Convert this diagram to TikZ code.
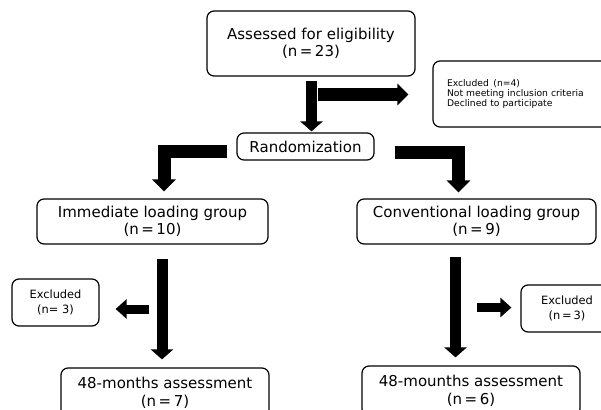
\documentclass[tikz,border=0pt]{standalone}
\usepackage{fontspec}
\setmainfont{DejaVu Sans}
\usetikzlibrary{arrows.meta}
\begin{document}
\begin{tikzpicture}[x=1pt,y=-1pt,
  box/.style={draw, line width=1.2pt, rounded corners=7pt, align=center, inner sep=0pt,
    font=\fontsize{15}{17.5}\selectfont},
  sbox/.style={draw, line width=1.2pt, rounded corners=7pt, align=center, inner sep=0pt,
    font=\fontsize{11.4}{15}\selectfont},
  bigarrow/.style={line width=13pt, line join=miter, -{Triangle[width=23pt,length=12pt]}},
  midarrow/.style={line width=11pt, -{Triangle[width=22pt,length=10pt]}},
  sidearrow/.style={line width=13pt, -{Triangle[width=21pt,length=11pt]}},
  smallarrow/.style={line width=9pt, -{Triangle[width=19pt,length=11pt]}}]
\useasboundingbox[fill=white] (0,0) rectangle (601,409);

\node[box, minimum width=208pt, minimum height=65pt] (top) at (311,43.5)
  {Assessed for eligibility\\(n\,=\,23)};
\node[draw, line width=1.2pt, rounded corners=7pt, align=left, text width=160pt,
  inner xsep=14pt, inner ysep=0pt, minimum height=66pt,
  font=\fontsize{9.2}{10.2}\selectfont] (exc4) at (527,94)
  {Excluded\enspace(n=4)\\Not meeting inclusion criteria\\Declined to participate};
\node[box, minimum width=137pt, minimum height=27pt] (rand) at (305.5,146.5) {Randomization};
\node[box, minimum width=231pt, minimum height=45pt] (imm) at (152.5,221.5)
  {Immediate loading group\\(n\,=\,10)};
\node[box, minimum width=239pt, minimum height=45pt] (conv) at (476.5,221.5)
  {Conventional loading group\\(n\,=\,9)};
\node[sbox, minimum width=87pt, minimum height=47pt] (excL) at (55.5,302.5)
  {Excluded\\(n=~3)};
\node[sbox, minimum width=92pt, minimum height=47pt] (excR) at (567,308.5)
  {Excluded\\(n\,=\,3)};
\node[box, minimum width=208pt, minimum height=50pt] (botL) at (165,393)
  {48-months assessment\\(n\,=\,7)};
\node[box, minimum width=218pt, minimum height=50pt] (botR) at (471,391)
  {48-mounths assessment\\(n\,=\,6)};

\coordinate (r1) at (318,94.5);
\coordinate (c1) at (149,309);
\coordinate (c2) at (477,307.5);

\draw[midarrow, shorten <=4pt, shorten >=1pt] ([xshift=0.5pt]top.south) -- ([xshift=0.5pt]top.south |- rand.north);
\draw[sidearrow, shorten >=24pt] (r1) -- (r1 -| exc4.west);
\draw[bigarrow, shorten <=9pt, shorten >=7pt] ([yshift=-5pt]rand.west) -| ([xshift=11.5pt]imm.north);
\draw[bigarrow, shorten <=20pt, shorten >=6pt] ([yshift=-5.5pt]rand.east) -| ([xshift=-18pt]conv.north);
\draw[midarrow, shorten <=14pt, shorten >=8pt] ([xshift=9.5pt]imm.south) -- ([xshift=9.5pt]imm.south |- botL.north);
\draw[midarrow, shorten <=12pt, shorten >=8pt] ([xshift=-21pt]conv.south) -- ([xshift=-21pt]conv.south |- botR.north);
\draw[smallarrow, shorten >=16pt] (c1) -- (c1 -| excL.east);
\draw[smallarrow, shorten >=9pt] (c2) -- (c2 -| excR.west);
\end{tikzpicture}
\end{document}
